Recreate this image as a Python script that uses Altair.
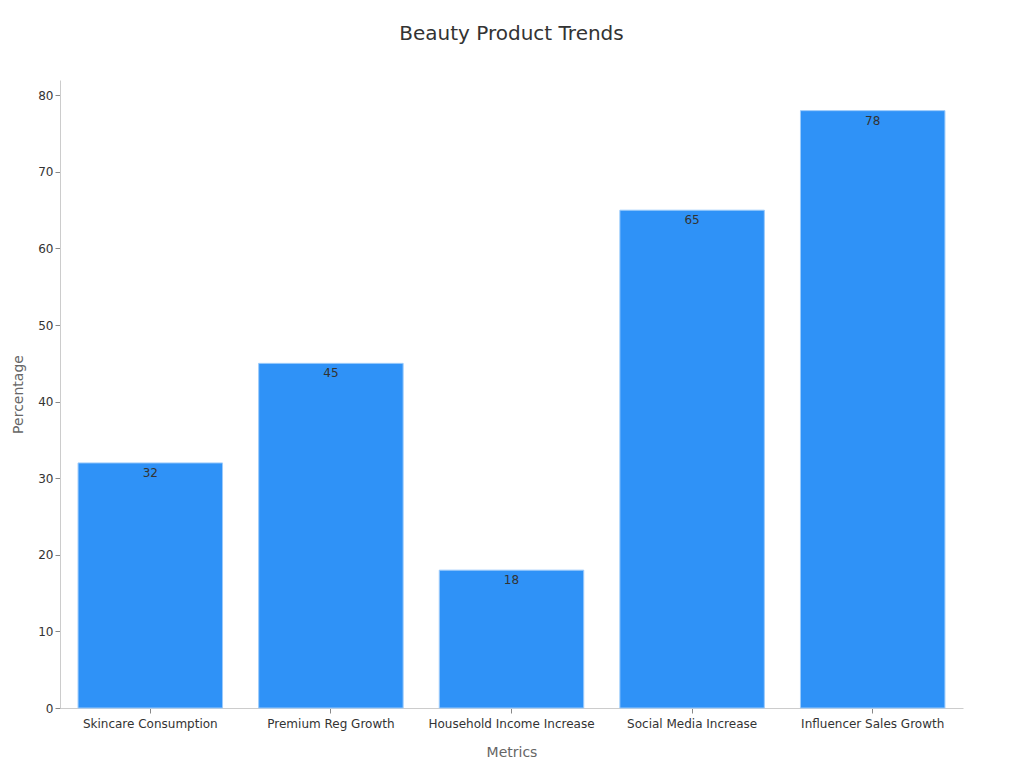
import altair as alt
import pandas as pd

metrics = ["Skincare Consumption", "Premium Reg Growth", "Household Income Increase",
           "Social Media Increase", "Influencer Sales Growth"]
values = [32, 45, 18, 65, 78]

df = pd.DataFrame({"Metrics": metrics, "Percentage": values})

x = alt.X("Metrics:N", sort=metrics,
          scale=alt.Scale(paddingInner=0.2, paddingOuter=0.1),
          axis=alt.Axis(labelAngle=0, labelFontSize=12, labelColor="#333333",
                        titleFontSize=14, titleColor="#666666", titleFontWeight="normal",
                        domainColor="#cccccc", tickColor="#888888", titlePadding=16,
                        labelPadding=5))
y = alt.Y("Percentage:Q", scale=alt.Scale(domain=[0, 82], nice=False),
          axis=alt.Axis(values=[0, 10, 20, 30, 40, 50, 60, 70, 80], grid=False,
                        labelFontSize=12, labelColor="#333333",
                        titleFontSize=14, titleColor="#666666", titleFontWeight="normal",
                        domainColor="#cccccc", tickColor="#888888", titlePadding=12))

bars = alt.Chart(df).mark_bar(color="#2F92F7", stroke="#9ccbfb", strokeWidth=1).encode(x=x, y=y)
labels = alt.Chart(df).mark_text(baseline="top", dy=5, fontSize=12, color="#333333").encode(
    x=alt.X("Metrics:N", sort=metrics), y="Percentage:Q", text="Percentage:Q")

chart = (bars + labels).properties(
    width=903, height=628,
    autosize=alt.AutoSizeParams(type="none"),
    padding={"left": 52, "top": 72, "right": 45, "bottom": 50},
    title=alt.Title("Beauty Product Trends", fontSize=20, fontWeight="normal", color="#333333",
                    offset=36),
).configure(font="DejaVu Sans").configure_view(stroke=None)

chart.save("out.html", embed_options={"renderer": "svg", "actions": False})
